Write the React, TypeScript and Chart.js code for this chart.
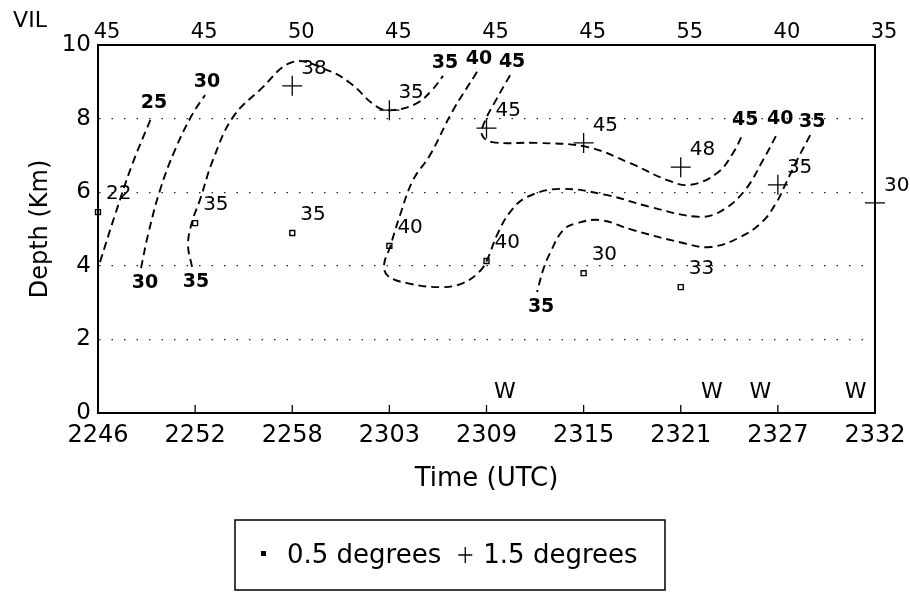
import React, { useEffect, useRef } from 'react';
import { Chart, registerables } from 'chart.js';

Chart.register(...registerables);

// ---- data ----
const timeLabels = ['2246', '2252', '2258', '2303', '2309', '2315', '2321', '2327', '2332'];
const vilValues = [45, 45, 50, 45, 45, 45, 55, 40, 35];

// 0.5 degree scan: time index, depth (km), reflectivity label
const lowScanX = [0, 1, 2, 3, 4, 5, 6];
const lowScanDepth = [5.46, 5.16, 4.89, 4.54, 4.13, 3.8, 3.42];
const lowScanLabel = [22, 35, 35, 40, 40, 30, 33];

// 1.5 degree scan
const highScanX = [2, 3, 4, 5, 6, 7, 8];
const highScanDepth = [8.89, 8.23, 7.74, 7.34, 6.68, 6.2, 5.71];
const highScanLabel = [38, 35, 45, 45, 48, 35, 30];

// W marks (time index) and their depth
const wMarkX = [4.19, 6.32, 6.82, 7.8];
const wMarkDepth = 0.55;

// contour paths: [time index, depth km]
const contour25 = [[0.02, 4.1], [0.175, 5.38], [0.35, 6.74], [0.556, 8.07]];
const contour30 = [[0.443, 3.94], [0.515, 4.84], [0.639, 6.06], [0.793, 7.15], [0.968, 8.1], [1.102, 8.64]];
const contour35a = [
  [0.968, 3.97], [0.927, 4.57], [0.968, 5.19], [1.05, 5.79], [1.184, 6.88], [1.39, 8.04], [1.668, 8.78],
  [2.008, 9.54], [2.358, 9.32], [2.595, 8.97], [2.873, 8.32], [3.038, 8.23], [3.285, 8.42], [3.44, 8.78], [3.553, 9.16],
];
const contour40 = [
  [3.903, 9.27], [3.646, 8.18], [3.419, 7.01], [3.244, 6.33], [3.11, 5.38], [3.007, 4.51], [2.945, 4.02],
  [2.987, 3.72], [3.182, 3.53], [3.522, 3.42], [3.759, 3.53], [3.934, 3.86], [4.006, 4.16], [4.109, 4.84],
  [4.243, 5.46], [4.418, 5.87], [4.758, 6.09], [5.242, 5.92], [5.685, 5.6], [6.2, 5.33], [6.437, 5.52],
  [6.663, 6.06], [6.849, 6.88], [7.003, 7.64],
];
const contour45 = [
  [4.243, 9.18], [4.099, 8.51], [3.975, 7.88], [3.955, 7.55], [4.058, 7.36], [4.521, 7.34], [5.036, 7.23],
  [5.479, 6.79], [5.86, 6.33], [6.097, 6.2], [6.375, 6.52], [6.54, 7.07], [6.643, 7.61],
];
const contour35b = [
  [7.333, 7.55], [7.199, 6.88], [7.075, 6.2], [6.983, 5.71], [6.838, 5.19], [6.612, 4.78], [6.303, 4.51],
  [6.025, 4.62], [5.51, 4.97], [5.17, 5.24], [4.933, 5.16], [4.789, 4.97], [4.655, 4.35], [4.583, 3.89], [4.521, 3.29],
];
const contourLevels = [25, 30, 35, 40, 45, 35];
const contourPaths = [contour25, contour30, contour35a, contour40, contour45, contour35b];
const contourLabelFirst = [false, true, true, true, true, true];

const FONT = "'DejaVu Sans', 'Liberation Sans', sans-serif";

export default function App() {
  const ref = useRef<HTMLCanvasElement>(null);

  useEffect(() => {
    const canvas = ref.current;
    if (!canvas) return;
    const nContours = contourPaths.length;

    const datasets: any[] = contourPaths.map((p, i) => ({
      label: `${contourLevels[i]} contour`,
      data: p.map(([x, y]) => ({ x, y })),
      showLine: true,
      borderColor: '#000',
      borderWidth: 1.9,
      borderDash: [8, 5],
      tension: 0.4,
      pointRadius: 0,
      pointHoverRadius: 0,
      fill: false,
      clip: false,
    }));
    datasets.push({
      label: '0.5 degrees',
      data: lowScanX.map((x, i) => ({ x, y: lowScanDepth[i] })),
      pointStyle: 'rect',
      pointRadius: 3.5,
      backgroundColor: '#fff',
      borderColor: '#000',
      borderWidth: 1.4,
      showLine: false,
      clip: false,
    });
    datasets.push({
      label: '1.5 degrees',
      data: highScanX.map((x, i) => ({ x, y: highScanDepth[i] })),
      pointStyle: 'cross',
      pointRadius: 10,
      borderColor: '#000',
      backgroundColor: '#000',
      borderWidth: 1.3,
      showLine: false,
      clip: false,
    });

    const annot = {
      id: 'annot',
      afterDraw(chart: any) {
        const { ctx, chartArea: a, scales } = chart;
        const xs = scales.x;
        const ys = scales.y;
        ctx.save();
        ctx.strokeStyle = '#000';
        ctx.fillStyle = '#000';
        ctx.setLineDash([]);
        // frame
        ctx.lineWidth = 2;
        ctx.strokeRect(a.left, a.top, a.right - a.left, a.bottom - a.top);
        // inward tick marks
        ctx.lineWidth = 1.3;
        for (let i = 1; i < timeLabels.length - 1; i++) {
          const px = xs.getPixelForValue(i);
          ctx.beginPath();
          ctx.moveTo(px, a.bottom);
          ctx.lineTo(px, a.bottom - 8);
          ctx.stroke();
        }
        // VIL values
        ctx.textAlign = 'center';
        ctx.textBaseline = 'middle';
        ctx.font = `21px ${FONT}`;
        vilValues.forEach((v, i) => ctx.fillText(String(v), xs.getPixelForValue(i) + 9, a.top - 12));
        ctx.font = `22px ${FONT}`;
        ctx.fillText('VIL', 30, 21);

        // point labels
        ctx.font = `20px ${FONT}`;
        ctx.textAlign = 'left';
        const lowMeta = chart.getDatasetMeta(nContours);
        lowMeta.data.forEach((el: any, i: number) => ctx.fillText(String(lowScanLabel[i]), el.x + 8, el.y - 18));
        const highMeta = chart.getDatasetMeta(nContours + 1);
        highMeta.data.forEach((el: any, i: number) => ctx.fillText(String(highScanLabel[i]), el.x + 9, el.y - 17));

        // contour labels
        ctx.font = `bold 19px ${FONT}`;
        ctx.textAlign = 'center';
        for (let c = 0; c < nContours; c++) {
          const pts = chart.getDatasetMeta(c).data;
          const ends: [any, any][] = [];
          if (contourLabelFirst[c]) ends.push([pts[0], pts[1]]);
          ends.push([pts[pts.length - 1], pts[pts.length - 2]]);
          ends.forEach(([p, q]) => {
            const up = p.y < q.y;
            ctx.fillText(String(contourLevels[c]), p.x + (up ? 2 : 4), p.y + (up ? -13 : 15));
          });
        }

        // W marks
        ctx.font = `22px ${FONT}`;
        const wy = ys.getPixelForValue(wMarkDepth);
        wMarkX.forEach((v) => ctx.fillText('W', xs.getPixelForValue(v), wy));

        // legend
        const lx = 235, ly = 520, lw = 430, lh = 70;
        const cy = ly + lh / 2;
        ctx.lineWidth = 1.5;
        ctx.strokeRect(lx, ly, lw, lh);
        ctx.fillRect(lx + 26, cy - 4, 5, 5);
        ctx.font = `26px ${FONT}`;
        ctx.textAlign = 'left';
        const t1 = '0.5 degrees';
        const t1x = lx + 52;
        ctx.fillText(t1, t1x, cy + 1);
        const cx = t1x + ctx.measureText(t1).width + 24;
        ctx.lineWidth = 1.3;
        ctx.beginPath();
        ctx.moveTo(cx - 7, cy);
        ctx.lineTo(cx + 7, cy);
        ctx.moveTo(cx, cy - 8);
        ctx.lineTo(cx, cy + 8);
        ctx.stroke();
        ctx.fillText('1.5 degrees', cx + 18, cy + 1);
        ctx.restore();
      },
    };

    const chart = new Chart(canvas, {
      type: 'scatter',
      data: { datasets },
      options: {
        responsive: false,
        animation: false,
        devicePixelRatio: 1,
        layout: { padding: { top: 45, right: 35, bottom: 91, left: 0 } },
        plugins: { legend: { display: false }, tooltip: { enabled: false } },
        scales: {
          x: {
            type: 'linear',
            min: 0,
            max: 8,
            ticks: {
              stepSize: 1,
              autoSkip: false,
              maxRotation: 0,
              padding: 4,
              color: '#000',
              font: { size: 24, family: FONT, lineHeight: 1.6 },
              callback: (v: any) => timeLabels[v] ?? '',
            },
            grid: { display: false, drawTicks: false },
            border: { display: true, color: '#000', width: 2 },
            title: {
              display: true,
              text: 'Time (UTC)',
              color: '#000',
              font: { size: 26, family: FONT },
              padding: { top: 4, bottom: 8 },
            },
            afterFit: (s: any) => {
              s.height = 90;
            },
          },
          y: {
            type: 'linear',
            min: 0,
            max: 10,
            ticks: { stepSize: 2, padding: 7, color: '#000', font: { size: 23, family: FONT } },
            grid: {
              drawTicks: false,
              lineWidth: 1.3,
              color: (c: any) =>
                c.tick && (c.tick.value === 0 || c.tick.value === 10) ? 'rgba(0,0,0,0)' : '#222',
            },
            border: { display: true, color: '#000', width: 2, dash: [1.5, 11] },
            title: {
              display: true,
              text: 'Depth (Km)',
              color: '#000',
              font: { size: 24, family: FONT },
              padding: { top: 26, bottom: 0 },
            },
            afterFit: (s: any) => {
              s.width = 98;
            },
          },
        },
      },
      plugins: [annot],
    } as any);

    return () => chart.destroy();
  }, []);

  return (
    <div style={{ position: 'absolute', left: 0, top: 0, width: 910, height: 594, background: '#fff' }}>
      <canvas ref={ref} width={910} height={594} style={{ display: 'block' }} />
    </div>
  );
}
